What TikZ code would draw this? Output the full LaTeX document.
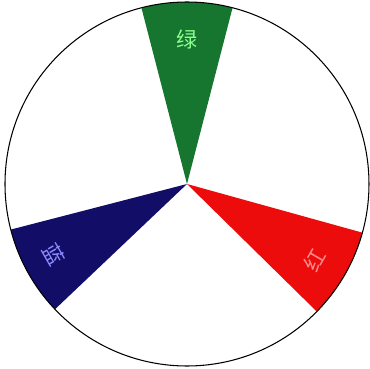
\documentclass[tikz,border=0pt]{standalone}
\usepackage{fontspec}
\newfontfamily\cjk{Noto Sans CJK SC}
\definecolor{wheelgreen}{RGB}{22,118,48}
\definecolor{wheelred}{RGB}{236,12,12}
\definecolor{wheelblue}{RGB}{18,14,104}
\usetikzlibrary{calc}

\begin{document}
\begin{tikzpicture}[x=0.02cm, y=0.02cm,
    label/.style={font=\cjk\fontsize{12}{12}\selectfont, inner sep=0pt}]
    % Rajzterulet rogzitese
    \useasboundingbox (-187,-185) rectangle (183,184);

    % Zold cikk (felul)
    \fill[wheelgreen] (0,0) -- (75.5:182) arc (75.5:104.5:182) -- cycle;
    \node[label, text=green!45!white] (zold) at (90:145) {绿};

    % Voros cikk (jobbra lent)
    \fill[wheelred] (0,0) -- (-44.5:182) arc (-44.5:-15.5:182) -- cycle;
    \node[label, text=red!45!white, rotate=60] (voros) at (-31:148) {红};

    % Kek cikk (balra lent)
    \fill[wheelblue] (0,0) -- (194.5:182) arc (194.5:223.5:182) -- cycle;
    \node[label, text=blue!45!white, rotate=-60] (kek) at (208:151) {蓝};

    % Kor korvonala
    \draw[line width=0.6pt] (0,0) circle (182);
\end{tikzpicture}
\end{document}
